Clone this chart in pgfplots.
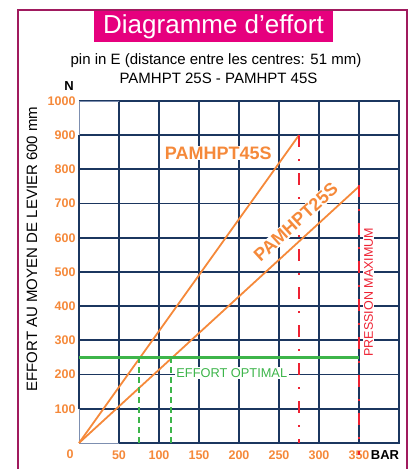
\documentclass[border=0pt]{standalone}
\usepackage{fontspec}
\setmainfont{Liberation Sans}
\usepackage{pgfplots}
\pgfplotsset{compat=1.18}
\definecolor{frameC}{HTML}{A01A5E}
\definecolor{magC}{HTML}{E6007E}
\definecolor{navy}{HTML}{1B365F}
\definecolor{orC}{HTML}{F5893A}
\definecolor{redC}{HTML}{EE2233}
\definecolor{grC}{HTML}{3DB54A}
\definecolor{lightax}{HTML}{7D8FB0}
\begin{document}
\begin{tikzpicture}[x=1pt,y=1pt]
\useasboundingbox (0,0) rectangle (413,469);
\draw[frameC, line width=2.5pt] (18,-10) -- (18,459) -- (407,459) -- (407,-10);
\fill[magC] (94,427) rectangle (333,458);
\node[white, font=\fontsize{26}{26}\selectfont] at (213.5,442.5) {Diagramme d’effort};
\node[font=\fontsize{15}{15}\selectfont] at (216,408) {pin in E (distance entre les centres: 51 mm)};
\node[font=\fontsize{15}{15}\selectfont] at (218.5,391) {PAMHPT 25S - PAMHPT 45S};
\begin{axis}[at={(79pt,26pt)}, anchor=south west,
  width=320pt, height=342pt, scale only axis, clip=false,
  xmin=0, xmax=400, ymin=0, ymax=1000,
  xtick={50,100,...,350}, ytick={100,200,...,1000},
  grid=major, major grid style={navy, line width=1.8pt},
  axis line style={lightax, line width=0.8pt},
  tick style={draw=none},
  /pgf/number format/1000 sep={},
  /pgf/number format/assume math mode=true,
  ticklabel style={text=orC, font=\bfseries\fontsize{12.5}{12.5}\selectfont},
  xticklabel style={yshift=-4pt},
]
\draw[navy, line width=1.8pt] (axis cs:0,100) -- (axis cs:0,900);
\draw[navy, line width=1.8pt] (axis cs:50,0) -- (axis cs:400,0) -- (axis cs:400,1000) -- (axis cs:50,1000);
\addplot[orC, line width=1.8pt] coordinates {(0,0) (275,900)};
\addplot[orC, line width=1.8pt] coordinates {(0,0) (350,750)};
\addplot[grC, line width=2.2pt] coordinates {(0,250) (350,250)};
\addplot[grC, line width=2.2pt, dash pattern=on 6pt off 4pt] coordinates {(75,0) (75,250)};
\addplot[grC, line width=2.2pt, dash pattern=on 6pt off 4pt] coordinates {(115,0) (115,250)};
\addplot[redC, line width=2.5pt, dash pattern=on 12pt off 12pt on 2pt off 12pt] coordinates {(275,900) (275,0)};
\addplot[redC, line width=2.5pt, dash pattern=on 12pt off 12pt on 2pt off 12pt] coordinates {(350,755) (350,-35)};
\node[fill=white, inner sep=1pt, text=orC, font=\bfseries\fontsize{18}{18}\selectfont] at (axis cs:174,848) {PAMHPT45S};
\node[fill=white, inner sep=1pt, rotate=42.5, text=orC, font=\bfseries\fontsize{18}{18}\selectfont] at (axis cs:271,646) {PAMHPT25S};
\node[fill=white, inner sep=1.5pt, text=grC, font=\fontsize{12.8}{12.8}\selectfont] at (axis cs:191,205) {EFFORT OPTIMAL};
\node[fill=white, inner sep=1pt, rotate=90, text=redC, font=\fontsize{12.5}{12.5}\selectfont] at (axis cs:362,441) {PRESSION MAXIMUM};
\end{axis}
\node[font=\bfseries\fontsize{13}{13}\selectfont] at (69,383) {N};
\node[font=\bfseries\fontsize{13}{13}\selectfont] at (385,14) {BAR};
\node[text=orC, font=\bfseries\fontsize{12.5}{12.5}\selectfont] at (70,15) {0};
\node[rotate=90, font=\fontsize{15}{15}\selectfont] at (32,220) {EFFORT AU MOYEN DE LEVIER 600 mm};
\end{tikzpicture}
\end{document}
